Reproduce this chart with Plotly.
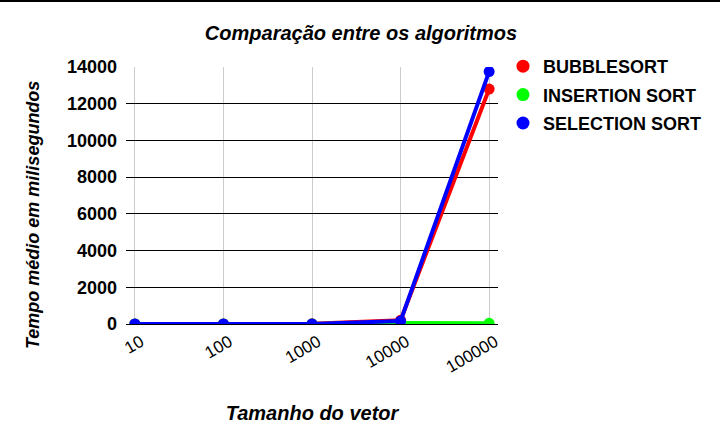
import plotly.graph_objects as go

categories = ["10", "100", "1000", "10000", "100000"]
bubble = [0.01, 1, 10, 200, 12800]
insertion = [0.01, 0.5, 4, 60, 40]
selection = [0.01, 0.8, 6, 160, 13750]
y_ticks = [0, 2000, 4000, 6000, 8000, 10000, 12000, 14000]

series = [
    ("BUBBLESORT", bubble, "#ff0000"),
    ("INSERTION SORT", insertion, "#00ff00"),
    ("SELECTION SORT", selection, "#0000ff"),
]

FONT = "Liberation Sans, Arial, sans-serif"
fig = go.Figure()
for i, (name, vals, col) in enumerate(series):
    fig.add_trace(go.Scatter(
        x=categories, y=vals, mode="lines+markers", name=name,
        line=dict(color=col, width=4), marker=dict(color=col, size=11),
        showlegend=False,
    ))
for i, (name, vals, col) in enumerate(series):
    fig.add_trace(go.Scatter(
        x=[None], y=[None], mode="markers", name=name,
        marker=dict(color=col, size=13), legendgroup=f"g{i}",
    ))

W, H = 720, 443
L, R, T, B = 126, 222, 67, 119
fig.update_layout(
    width=W, height=H,
    margin=dict(l=L, r=R, t=T, b=B, autoexpand=False),
    paper_bgcolor="white", plot_bgcolor="white",
    font=dict(family=FONT, color="#000000"),
    title=dict(text="Comparação entre os algoritmos", x=361 / W, xanchor="center",
               y=1 - 33 / H, yanchor="middle", automargin=False,
               font=dict(size=20, weight="bold", style="italic", color="#000")),
    xaxis=dict(
        type="category", range=[-0.1, 4.1], automargin=False,
        showgrid=True, gridcolor="#cccccc", gridwidth=1,
        tickangle=-30, tickfont=dict(size=17, color="#000"),
        ticklabelshift=6, ticklabelstandoff=4,
        showline=False, zeroline=False, ticks="",
        title=dict(text="Tamanho do vetor", standoff=30,
                   font=dict(size=20, weight="bold", style="italic", color="#000")),
    ),
    yaxis=dict(
        range=[0, 14000], tickvals=y_ticks, ticktext=[str(v) for v in y_ticks],
        automargin=False,
        showgrid=True, gridcolor="#000000", gridwidth=1,
        zeroline=True, zerolinecolor="#000000", zerolinewidth=1,
        tickfont=dict(size=18, weight="bold", color="#000"),
        ticks="", ticklabelstandoff=8,
    ),
    legend=dict(
        xref="container", yref="container",
        x=503 / W, xanchor="left",
        y=1 - 48 / H, yanchor="top",
        font=dict(size=18, weight="bold", color="#000"),
        tracegroupgap=2, bgcolor="rgba(0,0,0,0)",
    ),
)
fig.add_annotation(
    text="Tempo médio em milisegundos", textangle=-90,
    xref="paper", yref="paper", showarrow=False,
    x=(33 - L) / (W - L - R), y=(H - B - 215) / (H - T - B),
    xanchor="center", yanchor="middle",
    font=dict(size=18, weight="bold", style="italic", color="#000"),
)
ph = H - T - B
fig.add_shape(type="line", xref="paper", yref="paper",
              x0=-L / (W - L - R), x1=(W - L) / (W - L - R),
              y0=(H - B - 1) / ph, y1=(H - B - 1) / ph,
              line=dict(color="#000", width=2))
fig.write_html("out.html", config={"displayModeBar": False},
               post_script="document.body.style.margin='0';")
